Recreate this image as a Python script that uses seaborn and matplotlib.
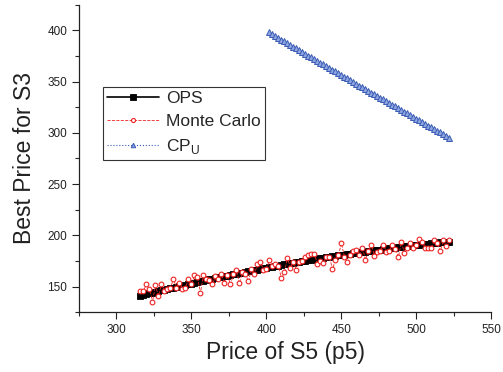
import numpy as np
import pandas as pd
import matplotlib
matplotlib.use("Agg")
import matplotlib.pyplot as plt
import seaborn as sns
from matplotlib.ticker import MultipleLocator

sns.set_style("ticks")
plt.rcParams['font.family'] = ['Liberation Sans', 'DejaVu Sans']
plt.rcParams['mathtext.fontset'] = 'custom'
plt.rcParams['mathtext.rm'] = 'Liberation Sans'

# ---- data ----
x_low = np.arange(316, 523, 2)
ops = [141.0, 141.7, 142.5, 143.2, 143.9, 144.6, 145.4, 146.1, 146.8, 147.5,
       148.2, 148.9, 149.6, 150.2, 150.9, 151.6, 152.3, 152.9, 153.6, 154.3,
       154.9, 155.6, 156.2, 156.9, 157.5, 158.1, 158.8, 159.4, 160.0, 160.6,
       161.2, 161.8, 162.4, 163.0, 163.6, 164.2, 164.8, 165.4, 165.9, 166.5,
       167.1, 167.6, 168.2, 168.8, 169.3, 169.8, 170.4, 170.9, 171.5, 172.0,
       172.5, 173.0, 173.5, 174.0, 174.5, 175.0, 175.5, 176.0, 176.5, 177.0,
       177.5, 178.0, 178.4, 178.9, 179.3, 179.8, 180.3, 180.7, 181.1, 181.6,
       182.0, 182.5, 182.9, 183.3, 183.7, 184.1, 184.5, 184.9, 185.3, 185.7,
       186.1, 186.5, 186.9, 187.3, 187.6, 188.0, 188.4, 188.7, 189.1, 189.4,
       189.8, 190.1, 190.5, 190.8, 191.1, 191.4, 191.8, 192.1, 192.4, 192.7,
       193.0, 193.3, 193.6, 193.9]
monte_carlo = [146, 146, 152, 148, 135, 151, 141, 152, 146, 148,
               149, 157, 149, 153, 148, 149, 157, 152, 161, 159,
               144, 161, 157, 156, 152, 160, 157, 162, 153, 161,
               152, 162, 166, 153, 164, 162, 155, 167, 162, 172,
               174, 166, 167, 176, 170, 172, 170, 158, 164, 178,
               168, 174, 166, 174, 175, 179, 181, 182, 182, 172,
               175, 173, 179, 179, 167, 176, 181, 192, 179, 174,
               181, 185, 186, 181, 188, 176, 185, 191, 180, 184,
               185, 191, 184, 185, 191, 187, 179, 193, 183, 188,
               192, 188, 191, 196, 193, 188, 188, 188, 195, 192,
               185, 195, 190, 195]
x_cpu = np.arange(402, 523, 2)
cp_u = [398.0, 396.3, 394.5, 392.8, 391.0, 389.3, 387.6, 385.8, 384.1, 382.4,
        380.6, 378.9, 377.2, 375.5, 373.7, 372.0, 370.3, 368.6, 366.9, 365.1,
        363.4, 361.7, 360.0, 358.3, 356.6, 354.8, 353.1, 351.4, 349.7, 348.0,
        346.2, 344.5, 342.8, 341.1, 339.4, 337.7, 336.0, 334.3, 332.6, 330.9,
        329.2, 327.5, 325.8, 324.1, 322.4, 320.7, 319.0, 317.3, 315.6, 313.9,
        312.2, 310.5, 308.8, 307.1, 305.4, 303.8, 302.1, 300.4, 298.7, 297.0,
        295.3]

df_ops = pd.DataFrame({"x": x_low, "y": ops})
df_mc = pd.DataFrame({"x": x_low, "y": monte_carlo})
df_cp = pd.DataFrame({"x": x_cpu, "y": cp_u})

fig = plt.figure(figsize=(5.03, 3.72), dpi=100)
ax = fig.add_axes([0.157, 0.161, 0.820, 0.826])

sns.lineplot(data=df_ops, x="x", y="y", ax=ax, color="black", lw=1.2,
             marker="s", markersize=4.3, markeredgewidth=0.6, markeredgecolor="black",
             label="OPS", sort=False, estimator=None)
sns.lineplot(data=df_mc, x="x", y="y", ax=ax, color="#ee2222", lw=0.6,
             linestyle="--", marker="o", markersize=3.4, markerfacecolor="white",
             markeredgecolor="#ee2222", markeredgewidth=0.8,
             label="Monte Carlo", sort=False, estimator=None)
sns.lineplot(data=df_cp, x="x", y="y", ax=ax, color="#3a5bb5", lw=0.8,
             linestyle=":", marker="^", markersize=3.8, markerfacecolor="#8fa6e0",
             markeredgecolor="#3a5bb5", markeredgewidth=0.7,
             label=r"CP$_\mathregular{U}$", sort=False, estimator=None)

ax.set_xlim(275, 550)
ax.set_ylim(125, 425)
ax.xaxis.set_major_locator(MultipleLocator(50))
ax.xaxis.set_minor_locator(MultipleLocator(25))
ax.yaxis.set_major_locator(MultipleLocator(50))
ax.yaxis.set_minor_locator(MultipleLocator(25))
ax.set_xticks([300, 350, 400, 450, 500, 550])
ax.set_yticks([150, 200, 250, 300, 350, 400])
ax.tick_params(axis="both", which="major", direction="out", length=5, width=0.8,
               labelsize=8.5, colors="#222222")
ax.tick_params(axis="both", which="minor", direction="out", length=3, width=0.8)
for s in ["top", "right"]:
    ax.spines[s].set_visible(False)
for s in ["left", "bottom"]:
    ax.spines[s].set_linewidth(0.9)
    ax.spines[s].set_color("#222222")

ax.set_xlabel("Price of S5 (p5)", fontsize=16.5, color="#222222")
ax.set_ylabel("Best Price for S3", fontsize=16.5, color="#222222", labelpad=8)

leg = ax.legend(loc="upper left", bbox_to_anchor=(0.058, 0.733), borderaxespad=0,
                fontsize=12.5, frameon=True, fancybox=False, handlelength=3.0,
                handletextpad=0.4, borderpad=0.25, labelspacing=0.45,
                markerscale=0.85)
leg.get_frame().set_edgecolor("black")
leg.get_frame().set_linewidth(0.8)

fig.savefig("out.png", dpi=100)
